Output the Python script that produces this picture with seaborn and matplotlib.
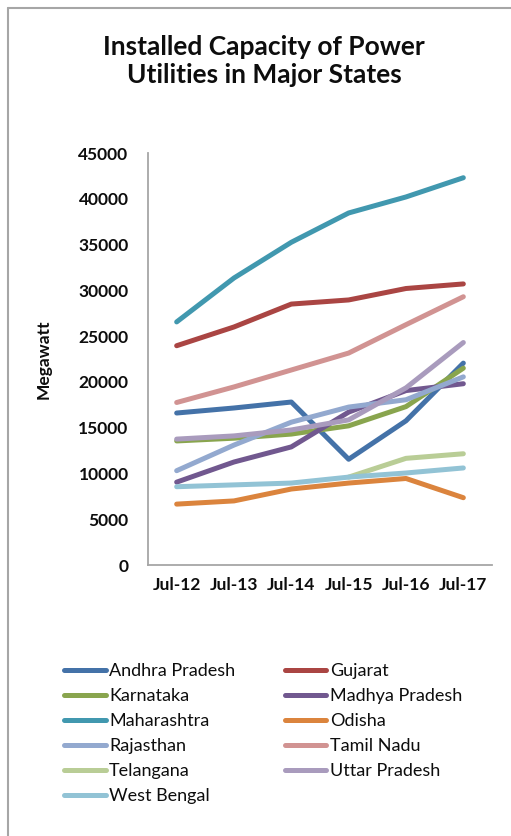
import numpy as np
import pandas as pd
import matplotlib
matplotlib.use("Agg")
import matplotlib.pyplot as plt
from matplotlib.lines import Line2D
import seaborn as sns

# Installed capacity (MW) by state, July of each year
periods = ["Jul-12", "Jul-13", "Jul-14", "Jul-15", "Jul-16", "Jul-17"]
andhra_pradesh = [16600, 17150, 17800, 11550, 15750, 22050]
gujarat = [23950, 26000, 28500, 28950, 30200, 30700]
karnataka = [13550, 13850, 14300, 15200, 17300, 21500]
madhya_pradesh = [9050, 11250, 12900, 16700, 19050, 19800]
maharashtra = [26550, 31350, 35250, 38450, 40200, 42300]
odisha = [6650, 7000, 8300, 8950, 9450, 7350]
rajasthan = [10300, 13100, 15600, 17250, 18050, 20550]
tamil_nadu = [17750, 19450, 21300, 23150, 26250, 29300]
telangana = [np.nan, np.nan, np.nan, 9600, 11650, 12150]
uttar_pradesh = [13750, 14100, 14750, 15850, 19350, 24300]
west_bengal = [8550, 8750, 8950, 9600, 10050, 10600]

states = ["Andhra Pradesh", "Gujarat", "Karnataka", "Madhya Pradesh", "Maharashtra",
          "Odisha", "Rajasthan", "Tamil Nadu", "Telangana", "Uttar Pradesh", "West Bengal"]
series = [andhra_pradesh, gujarat, karnataka, madhya_pradesh, maharashtra, odisha,
          rajasthan, tamil_nadu, telangana, uttar_pradesh, west_bengal]
colors = ["#4472A8", "#AA4543", "#89A54E", "#71588F", "#4198AF", "#DB843D",
          "#93A9CF", "#D19392", "#B9CD96", "#A99BBD", "#92C3D5"]
y_ticks = [0, 5000, 10000, 15000, 20000, 25000, 30000, 35000, 40000, 45000]

rows = []
for name, vals in zip(states, series):
    for i, (p, v) in enumerate(zip(periods, vals)):
        rows.append({"state": name, "period": p, "idx": i, "mw": v})
df = pd.DataFrame(rows).dropna()

sns.set_theme(style="white")
plt.rcParams["font.family"] = ["Lato", "DejaVu Sans"]

fig = plt.figure(figsize=(5.11, 8.36), dpi=100)
ax = fig.add_axes([148 / 511, 1 - 565 / 836, 344 / 511, 412 / 836])

sns.lineplot(data=df, x="idx", y="mw", hue="state", hue_order=states,
             palette=dict(zip(states, colors)), linewidth=3.6, ax=ax,
             legend=False, sort=True, solid_capstyle="round")

ax.set_xlim(-0.5, 5.5)
ax.set_ylim(0, 45000)
ax.set_xticks(range(len(periods)))
ax.set_xticklabels(periods)
ax.set_yticks(y_ticks)
ax.set_yticklabels([str(t) for t in y_ticks])
ax.tick_params(axis="both", length=0, labelsize=12.5, colors="#0D0D0D")
ax.tick_params(axis="y", pad=14)
ax.tick_params(axis="x", pad=9)
for lbl in ax.get_xticklabels() + ax.get_yticklabels():
    lbl.set_fontweight("bold")
ax.set_xlabel("")
ax.set_ylabel("Megawatt", fontsize=12.5, fontweight="bold", color="#0D0D0D")
ax.yaxis.set_label_coords(-0.28, 0.5)
for side in ["top", "right"]:
    ax.spines[side].set_visible(False)
for side in ["left", "bottom"]:
    ax.spines[side].set_color("#A6A6A6")
    ax.spines[side].set_linewidth(1.3)

fig.text(264 / 511, 1 - 61 / 836, "Installed Capacity of Power\nUtilities in Major States",
         ha="center", va="center", fontsize=19, fontweight="bold",
         color="#0D0D0D", linespacing=1.2)

# legend: row-major order in two columns
col1 = [0, 2, 4, 6, 8, 10]
col2 = [1, 3, 5, 7, 9]
order = col1 + col2
handles = [Line2D([], [], color=colors[i], linewidth=3.6, solid_capstyle="round") for i in order]
labels = [states[i] for i in order]
fig.legend(handles, labels, ncol=2, loc="upper left",
           bbox_to_anchor=(64 / 511, 1 - 663 / 836), frameon=False,
           fontsize=13, handlelength=2.3, handletextpad=0.2,
           columnspacing=2.75, labelspacing=0.5, borderaxespad=0,
           borderpad=0, labelcolor="#0D0D0D")

# outer chart frame
fig.add_artist(Line2D([7.5 / 511, 7.5 / 511], [0, 1 - 8 / 836], color="#A6A6A6",
                      linewidth=1.5, transform=fig.transFigure))
fig.add_artist(Line2D([7.5 / 511, 1], [1 - 8 / 836, 1 - 8 / 836], color="#A6A6A6",
                      linewidth=1.5, transform=fig.transFigure))

fig.savefig("out.png", dpi=100)
